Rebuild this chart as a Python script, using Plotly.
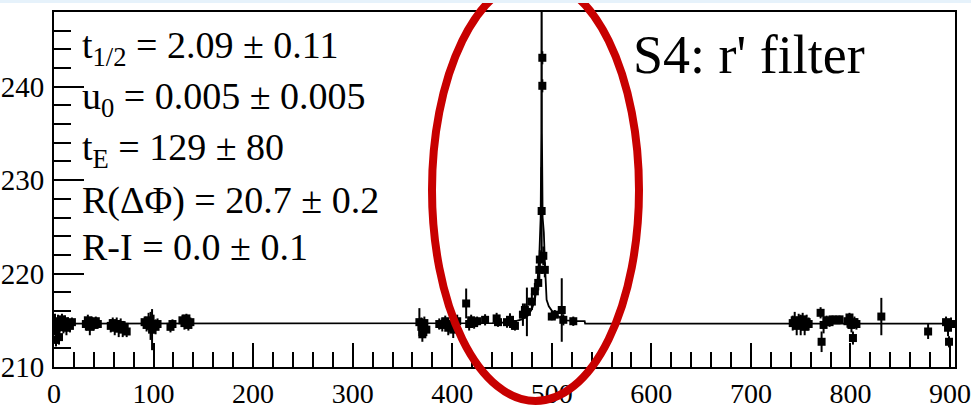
import plotly.graph_objects as go

obs_x = [1, 2, 2.5, 4, 5, 6.5, 8, 9.5, 11, 12.5, 14, 16, 18,
         32, 34, 36, 38, 40, 42, 44,
         57, 59, 61, 63, 65, 67, 69, 71, 73,
         91, 93, 95, 97, 98.5, 100, 102, 104,
         117, 119,
         129, 131, 133, 135, 137,
         367, 369, 370, 372, 374,
         387, 390, 393, 396, 399, 401, 403, 405,
         414, 417, 419, 422, 425, 433, 444.6, 446,
         455, 458, 461, 463, 471, 473, 475, 480, 483, 486.4, 487.5, 488, 491.5, 493,
         489.8, 490.5, 490.5,
         500, 503, 510, 511.6, 521.6,
         742, 744, 746, 748, 750, 752, 754, 756, 758,
         770, 771, 773, 776, 779, 782, 786, 789,
         797, 799, 801, 802.5, 804, 806,
         831, 878, 896, 898, 899, 901]
obs_y = [214.8, 212.9, 213.8, 214.9, 213.2, 214.4, 215.1, 214.3, 214.9, 214.2, 214.7, 214.4, 214.8,
         214.6, 215.0, 214.3, 214.8, 214.5, 214.9, 214.6,
         214.4, 214.7, 214.2, 214.6, 214.1, 214.5, 214.0, 214.3, 213.8,
         214.8, 214.5, 215.0, 214.4, 214.0, 214.6, 214.3, 214.6,
         214.3, 214.6,
         215.0, 214.7, 215.2, 214.5, 214.8,
         214.8, 214.3, 213.5, 214.7, 214.0,
         214.6, 214.5, 214.9, 214.2, 214.6, 214.0, 214.7, 214.9,
         216.8, 214.6, 215.0, 214.7, 214.9, 215.05, 215.2, 214.8,
         214.8, 215.05, 214.6, 214.4, 215.6, 216.1, 215.9, 217.0, 218.1, 219.0, 220.4, 221.5, 221.9, 220.4,
         226.7, 240.1, 243.1,
         215.4, 215.6, 216.1, 215.05, 214.9,
         214.7, 215.0, 214.4, 214.9, 214.5, 215.1, 214.3, 214.8, 214.6,
         215.8, 212.7, 214.5, 215.0, 214.8, 215.1, 215.0, 215.1,
         214.9, 215.3, 214.5, 213.1, 214.8, 214.6,
         215.4, 213.8, 214.8, 214.2, 212.7, 214.6]
obs_err = [0.9, 0.7, 1.2, 0.7, 0.8, 0.6, 0.6, 0.7, 0.6, 0.8, 0.6, 0.7, 0.5,
           0.7, 0.6, 0.9, 0.6, 0.6, 0.5, 0.5,
           0.7, 0.6, 0.8, 0.7, 0.9, 0.7, 0.8, 0.6, 0.6,
           0.6, 0.7, 0.8, 1.5, 2.2, 1.0, 0.8, 0.6,
           0.6, 0.5,
           0.6, 0.7, 0.5, 0.6, 0.5,
           1.5, 1.0, 0.8, 0.7, 0.7,
           0.6, 0.7, 0.6, 0.8, 0.7, 0.9, 0.8, 0.7,
           1.6, 0.7, 0.6, 0.6, 0.5, 0.6, 0.6, 0.5,
           0.6, 0.7, 0.6, 0.5, 1.2, 0.7, 2.6, 0.9, 0.9, 0.8, 1.0, 1.0, 1.0, 0.8,
           4.7, 0.7, 0.7,
           0.4, 0.5, 3.4, 0.6, 0.5,
           0.8, 0.9, 1.0, 0.8, 1.1, 0.7, 0.9, 0.8, 0.7,
           0.6, 1.1, 0.9, 0.5, 0.5, 0.4, 0.4, 0.4,
           0.7, 0.5, 0.8, 0.7, 0.6, 0.6,
           2.0, 0.8, 0.6, 0.9, 0.6, 0.7]

# ---- fitted model curve ----
model_x = [0, 440, 460, 470, 476, 480, 483, 485.5, 487.5, 488.8, 489.5, 489.8,
           490.1, 490.8, 492, 493.2, 494.8, 497, 501.5, 508, 515, 525, 533, 533.5, 905]
model_y = [214.65, 214.7, 214.8, 215.1, 215.5, 216.2, 217.2, 219.0, 222.0, 226.0, 235.0, 260.0,
           235.0, 226.0, 224.4, 220.8, 217.2, 216.5, 215.8, 215.3, 215.0, 214.9, 214.9, 214.65, 214.65]

x_ticks = [0, 100, 200, 300, 400, 500, 600, 700, 800, 900]
y_ticks = [210, 220, 230, 240]

fit_lines = ["t<sub>1/2</sub> = 2.09 ± 0.11",
             "u<sub>0</sub> = 0.005 ± 0.005",
             "t<sub>E</sub> = 129 ± 80",
             "R(ΔΦ) = 20.7 ± 0.2",
             "R-I = 0.0 ± 0.1"]
fit_line_py = [48, 99, 150, 201, 247]
title_text = "S4: r' filter"

W, H = 971, 410
ML, MR, MT, MB = 54, 16, 12, 43
PW, PH = W - ML - MR, H - MT - MB


def px(x):
    return (x - ML) / PW


def py(y):
    return (H - MB - y) / PH


fig = go.Figure()
fig.add_trace(go.Scatter(x=model_x, y=model_y, mode="lines",
                         line=dict(color="black", width=1.8), showlegend=False))
fig.add_trace(go.Scatter(x=obs_x, y=obs_y, mode="markers",
                         marker=dict(symbol="square", size=8, color="black"),
                         error_y=dict(type="data", array=obs_err, color="black",
                                      thickness=2, width=0),
                         showlegend=False))

font_serif = "Liberation Serif"
for txt, yy in zip(fit_lines, fit_line_py):
    fig.add_annotation(text=txt, xref="paper", yref="paper", x=px(80), y=py(yy),
                       xanchor="left", yanchor="middle", showarrow=False,
                       font=dict(family=font_serif, size=38, color="black"))
fig.add_annotation(text=title_text, xref="paper", yref="paper", x=px(749), y=py(55),
                   xanchor="center", yanchor="middle", showarrow=False,
                   font=dict(family=font_serif, size=54, color="black"))

# red ellipse highlight
fig.add_shape(type="circle", xref="paper", yref="paper",
              x0=px(432), x1=px(639), y0=py(401), y1=py(-21),
              line=dict(color="#c80000", width=8), layer="above")
# faint blue band at the top of the slide
fig.add_shape(type="rect", xref="paper", yref="paper",
              x0=px(0), x1=px(W), y0=py(0), y1=py(3),
              line=dict(width=0), fillcolor="#e6f2fb", layer="above")

fig.update_layout(
    width=W, height=H,
    margin=dict(l=ML, r=MR, t=MT, b=MB, pad=0, autoexpand=False),
    paper_bgcolor="white", plot_bgcolor="white",
    font=dict(family=font_serif, size=30, color="black"),
    xaxis=dict(range=[0, 905], tickvals=x_ticks, ticks="inside", ticklen=24,
               tickwidth=1.5, tickcolor="black", showgrid=False, zeroline=False,
               showline=True, linecolor="black", linewidth=2, mirror=True,
               automargin=False, ticklabeloverflow="allow",
               minor=dict(dtick=20, ticks="inside", ticklen=15, tickwidth=1.5,
                          tickcolor="black", showgrid=False),
               tickfont=dict(family=font_serif, size=28), ticklabelstandoff=0),
    yaxis=dict(range=[210, 248], tickvals=y_ticks, ticks="inside", ticklen=30,
               tickwidth=1.5, tickcolor="black", showgrid=False, zeroline=False,
               showline=True, linecolor="black", linewidth=2, mirror=True,
               automargin=False, ticklabeloverflow="allow",
               minor=dict(dtick=2, ticks="inside", ticklen=17, tickwidth=1.5,
                          tickcolor="black", showgrid=False),
               tickfont=dict(family=font_serif, size=29), ticklabelstandoff=2),
)

fig.write_html("out.html", config={"displayModeBar": False},
               post_script="document.body.style.margin='0';document.body.style.padding='0';")
